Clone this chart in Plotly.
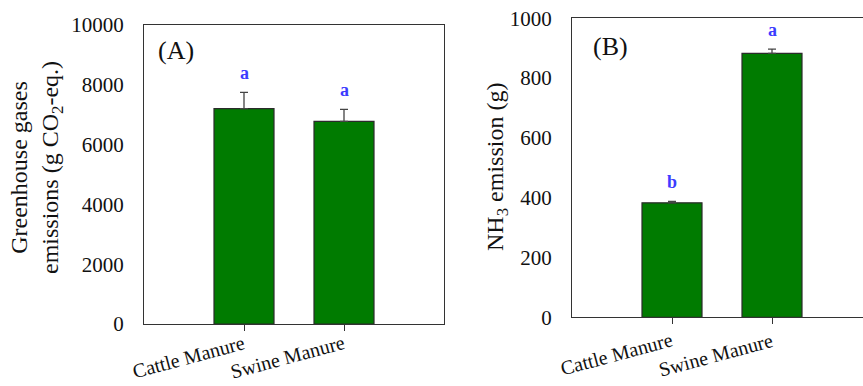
import plotly.graph_objects as go

# Data
categories = ["Cattle Manure", "Swine Manure"]
ghg_values = [7200, 6780]
ghg_errors = [550, 400]
ghg_letters = ["a", "a"]
ghg_ticks = [0, 2000, 4000, 6000, 8000, 10000]
nh3_values = [383, 883]
nh3_errors = [5, 14]
nh3_letters = ["b", "a"]
nh3_ticks = [0, 200, 400, 600, 800, 1000]

FONT = "Liberation Serif"
BAR_COLOR = "#007b00"
EDGE = "#2b2b2b"
LETTER_COLOR = "#3c3cff"
W, H = 863, 386

fig = go.Figure()

pos = list(range(len(categories)))

fig.add_trace(go.Bar(
    x=pos, y=ghg_values, width=0.6,
    marker=dict(color=BAR_COLOR, line=dict(color=EDGE, width=1.2)),
    error_y=dict(type="data", array=ghg_errors, symmetric=False, arrayminus=[0, 0],
                 color="#444", thickness=1.3, width=4),
    xaxis="x", yaxis="y", showlegend=False,
))
fig.add_trace(go.Bar(
    x=pos, y=nh3_values, width=0.6,
    marker=dict(color=BAR_COLOR, line=dict(color=EDGE, width=1.2)),
    error_y=dict(type="data", array=nh3_errors, symmetric=False, arrayminus=[0, 0],
                 color="#444", thickness=1.3, width=4),
    xaxis="x2", yaxis="y2", showlegend=False,
))

# significance letters above the error bars
for i, (v, e, t) in enumerate(zip(ghg_values, ghg_errors, ghg_letters)):
    fig.add_annotation(x=i, y=v + e, text=f"<b>{t}</b>", xref="x", yref="y",
                       showarrow=False, yanchor="bottom", yshift=7,
                       font=dict(family=FONT, size=18, color=LETTER_COLOR))
for i, (v, e, t) in enumerate(zip(nh3_values, nh3_errors, nh3_letters)):
    fig.add_annotation(x=i, y=v + e, text=f"<b>{t}</b>", xref="x2", yref="y2",
                       showarrow=False, yanchor="bottom", yshift=7,
                       font=dict(family=FONT, size=18, color=LETTER_COLOR))

# slanted category labels under each tick
for xr, yr, ys in (("x", "y domain", -5), ("x2", "y2 domain", -9)):
    for i, name in enumerate(categories):
        fig.add_annotation(x=i, y=0, xref=xr, yref=yr, text=name, textangle=-15,
                           showarrow=False, xanchor="right", yanchor="top",
                           xshift=5, yshift=ys,
                           font=dict(family=FONT, size=20, color="#111"))

# panel labels
fig.add_annotation(x=0.04, y=0.915, xref="x domain", yref="y domain", text="(A)",
                   showarrow=False, xanchor="left", yanchor="middle",
                   font=dict(family=FONT, size=26, color="#111"))
fig.add_annotation(x=0.065, y=0.905, xref="x2 domain", yref="y2 domain", text="(B)",
                   showarrow=False, xanchor="left", yanchor="middle",
                   font=dict(family=FONT, size=26, color="#111"))

# y-axis titles
fig.add_annotation(x=36 / W, y=1 - 168 / H, xref="paper", yref="paper",
                   text="Greenhouse gases<br>emissions (g CO<sub>2</sub>-eq.)", textangle=-90,
                   showarrow=False, xanchor="center", yanchor="middle",
                   font=dict(family=FONT, size=24, color="#111"))
fig.add_annotation(x=497 / W, y=1 - 167 / H, xref="paper", yref="paper",
                   text="NH<sub>3</sub> emission (g)", textangle=-90,
                   showarrow=False, xanchor="center", yanchor="middle",
                   font=dict(family=FONT, size=24, color="#111"))

axis_line = dict(showline=True, linecolor="#333", linewidth=1.2, showgrid=False,
                 zeroline=False, automargin=False)
tickfont = dict(family=FONT, size=21, color="#111")

fig.update_layout(
    width=W, height=H,
    margin=dict(l=0, r=0, t=0, b=0),
    paper_bgcolor="white", plot_bgcolor="white",
    font=dict(family=FONT, color="#111"),
    xaxis=dict(domain=[144 / W, 444 / W], range=[-1, 2], tickvals=pos, showticklabels=False,
               ticks="outside", ticklen=6, tickcolor="#333",
               mirror=True, anchor="y", **axis_line),
    yaxis=dict(domain=[62 / H, 361 / H], range=[0, 10000],
               tickvals=ghg_ticks, ticktext=[str(t) for t in ghg_ticks],
               ticks="", ticklabelstandoff=15, tickfont=tickfont, mirror=True, anchor="x",
               **axis_line),
    xaxis2=dict(domain=[572 / W, 1.0], range=[-1, 1.91], tickvals=pos, showticklabels=False,
                ticks="outside", ticklen=6, tickcolor="#333",
                mirror=True, anchor="y2", **axis_line),
    yaxis2=dict(domain=[68.7 / H, 367.7 / H], range=[0, 1000],
                tickvals=nh3_ticks, ticktext=[str(t) for t in nh3_ticks],
                ticks="", ticklabelstandoff=15, tickfont=tickfont, mirror=False, anchor="x2",
                **axis_line),
)

fig.write_html("out.html")
